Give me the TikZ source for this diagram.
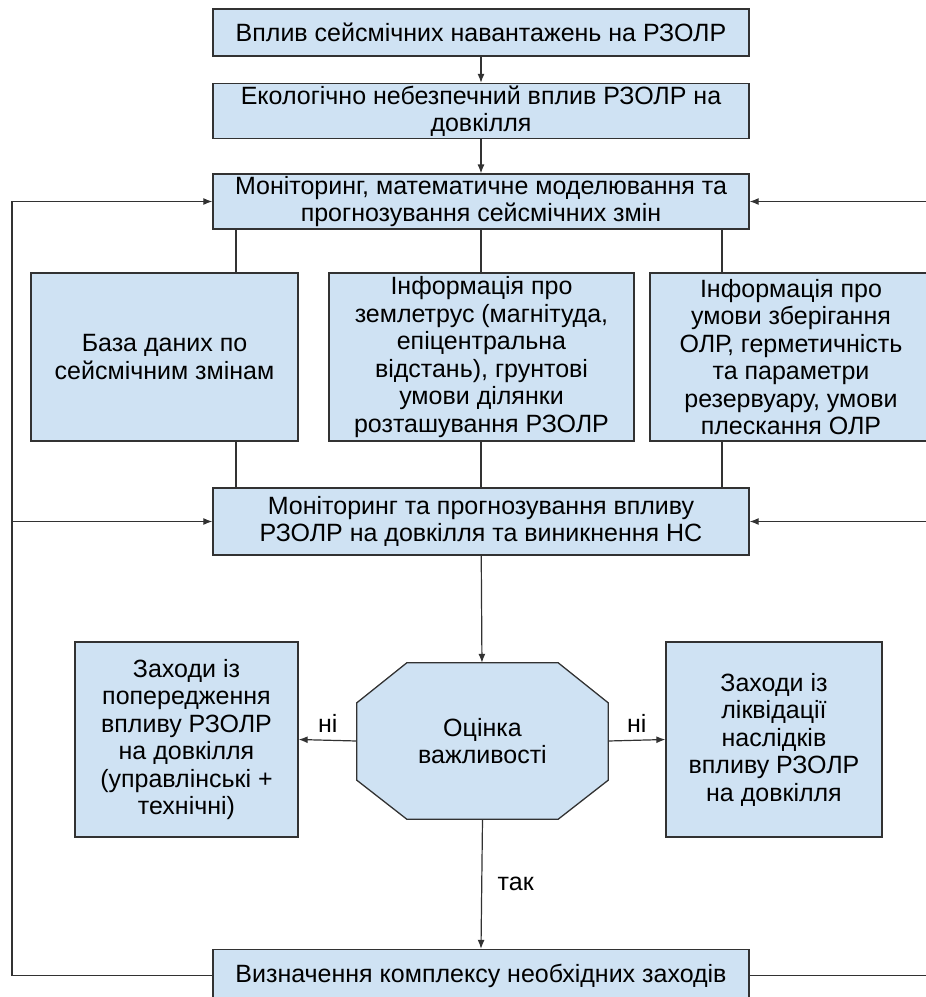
\documentclass[tikz,border=0pt]{standalone}
\usepackage{fontspec}
\setmainfont{Liberation Sans}
\usepackage{xcolor}
\usetikzlibrary{positioning,arrows.meta,calc,backgrounds}
\definecolor{boxclr}{RGB}{207,226,243}
\definecolor{lineclr}{RGB}{50,50,50}
\tikzset{
  blk/.style={rectangle,draw=lineclr,line width=1.3pt,fill=boxclr,
              align=center,inner sep=2pt,font=\fontsize{25}{27.5}\selectfont},
  dec/.style={rectangle,draw=none,align=center,inner sep=0pt,
              minimum width=251pt,minimum height=156pt,
              font=\fontsize{25}{27.5}\selectfont},
  edge/.style={-{Latex[length=9pt,width=7pt]},line width=1.2pt,draw=lineclr},
  link/.style={line width=1.2pt,draw=lineclr},
  lbl/.style={font=\fontsize{25}{27.5}\selectfont},
}
\begin{document}
\begin{tikzpicture}[x=1pt,y=-1pt]
\useasboundingbox (0,0) rectangle (926,997);
\clip (0,0) rectangle (926,997);

% upper chain
\node[blk, minimum width=536pt, minimum height=47pt] (b1) at (481,32.5)
      {Вплив сейсмічних навантажень на РЗОЛР};
\node[blk, minimum width=536pt, minimum height=50pt] (b2) at (481,111)
      {Екологічно небезпечний вплив РЗОЛР на\\довкілля};
\node[blk, minimum width=536pt, minimum height=49pt] (b3) at (481,201.5)
      {Моніторинг, математичне моделювання та\\прогнозування сейсмічних змін};

% information boxes
\node[blk, minimum width=267pt, minimum height=168pt] (b4) at (164.5,357)
      {База даних по\\сейсмічним змінам};
\node[blk, minimum width=305pt, minimum height=168pt] (b5) at (481.5,357)
      {Інформація про\\землетрус (магнітуда,\\епіцентральна\\відстань), грунтові\\умови ділянки\\розташування РЗОЛР};
\node[blk, minimum width=282pt, minimum height=168pt] (b6) at (791,357)
      {Інформація про\\умови зберігання\\ОЛР, герметичність\\та параметри\\резервуару, умови\\плескання ОЛР};

\node[blk, minimum width=536pt, minimum height=67pt] (b7) at (481,521.5)
      {Моніторинг та прогнозування впливу\\РЗОЛР на довкілля та виникнення НС};

% decision
\node[dec] (oc) at (482.5,741) {Оцінка\\важливості};
\begin{pgfonlayer}{background}
\draw[line width=1.3pt,draw=lineclr,fill=boxclr]
  ($(oc.north west)+(50,0)$) -- ($(oc.north east)+(-50,0)$)
  -- ($(oc.north east)+(0,40)$) -- ($(oc.south east)+(0,-39)$)
  -- ($(oc.south east)+(-50,0)$) -- ($(oc.south west)+(50,0)$)
  -- ($(oc.south west)+(0,-39)$) -- ($(oc.north west)+(0,40)$) -- cycle;
\end{pgfonlayer}

\node[blk, minimum width=223pt, minimum height=195pt] (b8) at (186.5,739.5)
      {Заходи із\\попередження\\впливу РЗОЛР\\на довкілля\\(управлінські +\\технічні)};
\node[blk, minimum width=216pt, minimum height=195pt] (b9) at (774,739.5)
      {Заходи із\\ліквідації\\наслідків\\впливу РЗОЛР\\на довкілля};

\node[blk, minimum width=536pt, minimum height=52pt] (b10) at (481,975.5)
      {Визначення комплексу необхідних заходів};

\coordinate (cl) at (236,0);
\coordinate (cr) at (722,0);
\coordinate (fl) at (12,0);
\coordinate (fr) at (940,0);

\draw[edge] (b1) -- (b2);
\draw[edge] (b2) -- (b3);

\draw[link] (b3.south -| cl) -- (b4.north -| cl);
\draw[link] (b3.south) -- (b5.north -| b3.south);
\draw[link] (b3.south -| cr) -- (b6.north -| cr);
\draw[link] (b4.south -| cl) -- (b7.north -| cl);
\draw[link] (b5.south -| b7.north) -- (b7.north);
\draw[link] (b6.south -| cr) -- (b7.north -| cr);

\draw[edge] (b7) -- (oc);
\draw[edge] (oc.west) -- node[lbl, above=4pt] {ні} (b8.east);
\draw[edge] (oc.east) -- node[lbl, above=4pt] {ні} (b9.west);
\draw[edge] (oc.south) -- node[lbl, right=12pt] {так} (b10.north);

% feedback loops
\draw[edge] (b10.west) -- (b10.west -| fl) -- (b3.west -| fl) -- (b3.west);
\draw[edge] (b7.west -| fl) -- (b7.west);
\draw[edge] (b10.east) -- (b10.east -| fr) -- (b3.east -| fr) -- (b3.east);
\draw[edge] (b7.east -| fr) -- (b7.east);
\end{tikzpicture}
\end{document}
